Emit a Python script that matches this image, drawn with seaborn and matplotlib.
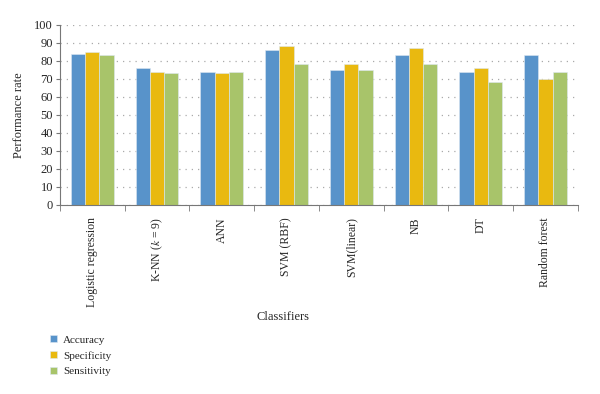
import numpy as np
import pandas as pd
import matplotlib
matplotlib.use("Agg")
import matplotlib.pyplot as plt
import seaborn as sns

classifiers = ["Logistic regression", "K-NN ($k$ = 9)", "ANN", "SVM (RBF)",
               "SVM(linear)", "NB", "DT", "Random forest"]
accuracy = [84, 76, 74, 86, 75, 83, 74, 83]
specificity = [85, 74, 73, 88, 78, 87, 76, 70]
sensitivity = [83, 73, 74, 78, 75, 78, 68, 74]
metrics = ["Accuracy", "Specificity", "Sensitivity"]
colors = ["#5893CA", "#E9B910", "#A8C46A"]

df = pd.DataFrame({"Classifier": classifiers * 3,
                   "Metric": np.repeat(metrics, len(classifiers)),
                   "Value": accuracy + specificity + sensitivity})

sns.set_style("white")
plt.rcParams["font.family"] = ["Liberation Serif", "DejaVu Serif"]
plt.rcParams["mathtext.fontset"] = "stix"

fig = plt.figure(figsize=(6, 3.94), dpi=100)
ax = fig.add_axes([0.1, 0.48, 0.863, 0.457])

sns.barplot(data=df, x="Classifier", y="Value", hue="Metric", palette=colors,
            width=0.66, saturation=1, edgecolor="#DDE8F2", linewidth=0.4, ax=ax,
            legend=True)

ax.set_ylim(0, 100)
ax.set_xlim(-0.5, len(classifiers) - 0.5)
ax.set_yticks(range(0, 101, 10))
ax.yaxis.grid(True, linestyle=(0, (1, 4)), color="#AAAAAA", linewidth=0.9)
ax.set_axisbelow(True)
for s in ["top", "right"]:
    ax.spines[s].set_visible(False)
ax.spines["left"].set_color("#777777")
ax.spines["bottom"].set_color("#777777")
ax.tick_params(axis="y", length=3, color="#777777", labelsize=9, pad=2, left=True)
ax.tick_params(axis="x", length=0, labelsize=8.5, pad=9, rotation=90)
ax.set_xticks(np.arange(-0.5, len(classifiers), 1), minor=True)
ax.tick_params(axis="x", which="minor", length=4, color="#777777", bottom=True)
for lbl in ax.get_xticklabels():
    lbl.set_verticalalignment("top")
ax.set_xlabel("Classifiers", fontsize=9)
ax.set_ylabel("Performance rate", fontsize=9)
ax.xaxis.set_label_coords(0.43, -0.59)
ax.yaxis.set_label_coords(-0.068, 0.5)

ax.legend(loc="upper left", bbox_to_anchor=(-0.028, -0.7), frameon=False,
          fontsize=8, handlelength=0.6, handleheight=0.6, handletextpad=0.6,
          labelspacing=0.55, borderaxespad=0)

fig.savefig("out.png", dpi=100)
